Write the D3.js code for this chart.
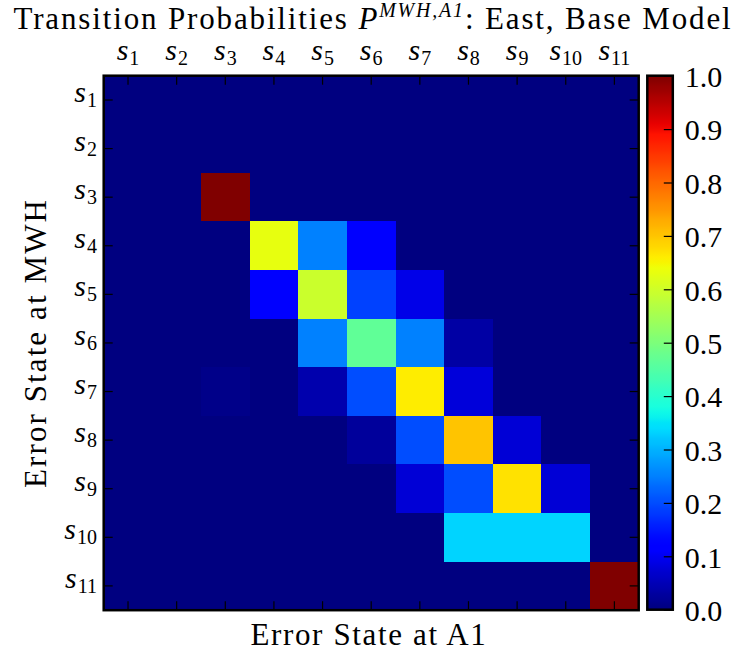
<!DOCTYPE html>
<html>
<head>
<meta charset="utf-8">
<script src="https://cdn.jsdelivr.net/npm/d3@7"></script>
<style>
  html, body { margin: 0; padding: 0; background: #fff; }
  svg { display: block; }
  text { font-family: "Liberation Serif", "DejaVu Serif", serif; fill: #000; }
</style>
</head>
<body>
<svg id="chart" width="736" height="653"></svg>
<script>
// ---------- data ----------
const colStates = ["1","2","3","4","5","6","7","8","9","10","11"];   // A1 states (columns)
const rowStates = ["1","2","3","4","5","6","7","8","9","10","11"];   // MWH states (rows)
const row1  = [0,0,0,0,0,0,0,0,0,0,0];
const row2  = [0,0,0,0,0,0,0,0,0,0,0];
const row3  = [0,0,1.0,0,0,0,0,0,0,0,0];
const row4  = [0,0,0,0.63,0.25,0.12,0,0,0,0,0];
const row5  = [0,0,0,0.12,0.595,0.19,0.09,0,0,0,0];
const row6  = [0,0,0,0,0.25,0.465,0.25,0.035,0,0,0];
const row7  = [0,0,0.01,0,0.04,0.20,0.66,0.08,0,0,0];
const row8  = [0,0,0,0,0,0.025,0.20,0.70,0.075,0,0];
const row9  = [0,0,0,0,0,0,0.075,0.20,0.67,0.075,0];
const row10 = [0,0,0,0,0,0,0,0.333,0.333,0.333,0];
const row11 = [0,0,0,0,0,0,0,0,0,0,1.0];
const matrix = [row1,row2,row3,row4,row5,row6,row7,row8,row9,row10,row11];
const cbTicks = [0,0.1,0.2,0.3,0.4,0.5,0.6,0.7,0.8,0.9,1.0];

// ---------- jet colormap (matplotlib segment data) ----------
function seg(pts, v) {
  for (let i = 1; i < pts.length; i++) {
    if (v <= pts[i][0]) {
      const [x0, y0] = pts[i-1], [x1, y1] = pts[i];
      return y0 + (y1 - y0) * (v - x0) / (x1 - x0);
    }
  }
  return pts[pts.length-1][1];
}
const jR = [[0,0],[0.35,0],[0.66,1],[0.89,1],[1,0.5]];
const jG = [[0,0],[0.125,0],[0.375,1],[0.64,1],[0.91,0],[1,0]];
const jB = [[0,0.5],[0.11,1],[0.34,1],[0.65,0],[1,0]];
function jet(v) {
  v = Math.max(0, Math.min(1, v));
  v = Math.min(255, Math.floor(v * 256)) / 255; // 256-level LUT
  return d3.rgb(Math.round(seg(jR,v)*255), Math.round(seg(jG,v)*255), Math.round(seg(jB,v)*255)).formatHex();
}
const color = d3.scaleSequential(jet).domain([0, 1]);

// ---------- layout ----------
const svg = d3.select("#chart");
const P = { x: 103.7, y: 75.7, w: 535, h: 534.5 };
const CB = { x: 647.3, y: 75.7, w: 25.5, h: 534 };
const tickLen = 9;

const x = d3.scaleBand().domain(d3.range(colStates.length)).range([P.x, P.x + P.w]);
const y = d3.scaleBand().domain(d3.range(rowStates.length)).range([P.y, P.y + P.h]);

// cells
const cells = [];
matrix.forEach((r, i) => r.forEach((v, j) => cells.push({ i, j, v })));
svg.append("g").selectAll("rect").data(cells).join("rect")
  .attr("x", d => x(d.j)).attr("y", d => y(d.i))
  .attr("width", x.bandwidth() + 0.5).attr("height", y.bandwidth() + 0.5)
  .attr("fill", d => color(d.v))
  .attr("shape-rendering", "crispEdges");

// ticks (inward, all four sides)
const tg = svg.append("g").attr("stroke", "#000").attr("stroke-width", 1.2);
d3.range(colStates.length).forEach(j => {
  const cx = x(j) + x.bandwidth() / 2;
  tg.append("line").attr("x1", cx).attr("x2", cx).attr("y1", P.y).attr("y2", P.y + tickLen);
  tg.append("line").attr("x1", cx).attr("x2", cx).attr("y1", P.y + P.h).attr("y2", P.y + P.h - tickLen);
});
d3.range(rowStates.length).forEach(i => {
  const cy = y(i) + y.bandwidth() / 2;
  tg.append("line").attr("y1", cy).attr("y2", cy).attr("x1", P.x).attr("x2", P.x + tickLen);
  tg.append("line").attr("y1", cy).attr("y2", cy).attr("x1", P.x + P.w).attr("x2", P.x + P.w - tickLen);
});

// frame
svg.append("rect").attr("x", P.x).attr("y", P.y).attr("width", P.w).attr("height", P.h)
  .attr("fill", "none").attr("stroke", "#000").attr("stroke-width", 2.5);

// state labels
function stateLabel(sel, n) {
  sel.append("tspan").attr("font-style", "italic").attr("font-size", 30).text("s");
  sel.append("tspan").attr("font-size", 20).attr("dx", 1).attr("dy", 5).text(n);
}
svg.append("g").selectAll("text").data(colStates).join("text")
  .attr("x", (d, j) => x(j) + x.bandwidth() / 2)
  .attr("y", 60)
  .attr("text-anchor", "middle")
  .each(function(d) { stateLabel(d3.select(this), d); });
svg.append("g").selectAll("text").data(rowStates).join("text")
  .attr("x", 97)
  .attr("y", (d, i) => y(i) + y.bandwidth() / 2 + 2)
  .attr("text-anchor", "end")
  .each(function(d) { stateLabel(d3.select(this), d); });

// colorbar
const defs = svg.append("defs");
const grad = defs.append("linearGradient").attr("id", "jetgrad")
  .attr("x1", 0).attr("x2", 0).attr("y1", 1).attr("y2", 0);
d3.range(0, 1.0001, 0.01).forEach(t => {
  grad.append("stop").attr("offset", t).attr("stop-color", color(t));
});
svg.append("rect").attr("x", CB.x).attr("y", CB.y).attr("width", CB.w).attr("height", CB.h)
  .attr("fill", "url(#jetgrad)");
const cy = d3.scaleLinear().domain([0, 1]).range([CB.y + CB.h, CB.y]);
const cbAxis = d3.axisRight(cy).tickValues(cbTicks).tickFormat(d3.format(".1f")).tickSize(0).tickPadding(0);
const cbg = svg.append("g").attr("transform", `translate(${CB.x + CB.w},0)`).call(cbAxis);
cbg.select(".domain").remove();
cbg.selectAll(".tick line").attr("x1", -tickLen).attr("x2", 0).attr("stroke", "#000").attr("stroke-width", 1.2);
cbg.selectAll(".tick text")
  .attr("x", 12).attr("dy", "0.36em")
  .attr("font-family", "Liberation Serif, DejaVu Serif, serif")
  .attr("font-size", 30).attr("fill", "#000");
svg.append("rect").attr("x", CB.x).attr("y", CB.y).attr("width", CB.w).attr("height", CB.h)
  .attr("fill", "none").attr("stroke", "#000").attr("stroke-width", 2.5);

// helper: grow font up to a cap, then fill remaining width with letter spacing
function fit(sel, target, maxFs) {
  const fs0 = parseFloat(sel.attr("font-size"));
  let w = sel.node().getComputedTextLength();
  const k = Math.min(target / w, maxFs / fs0);
  sel.attr("font-size", fs0 * k);
  sel.selectAll("tspan").each(function() {
    const t = d3.select(this);
    if (t.attr("font-size")) t.attr("font-size", parseFloat(t.attr("font-size")) * k);
    if (t.attr("dy")) t.attr("dy", parseFloat(t.attr("dy")) * k);
  });
  w = sel.node().getComputedTextLength();
  const n = sel.text().length;
  if (target > w) sel.attr("letter-spacing", (target - w) / n);
}

// title
const title = svg.append("text").attr("x", 373).attr("y", 29).attr("text-anchor", "middle").attr("font-size", 28);
title.append("tspan").text("Transition Probabilities ");
title.append("tspan").attr("font-style", "italic").text("P");
title.append("tspan").attr("font-style", "italic").attr("font-size", 18).attr("dy", -10.5).text("MWH,A1");
title.append("tspan").attr("dy", 10.5).text(": East, Base Model");
fit(title, 719, 31);

// axis labels
const xl = svg.append("text").attr("x", 369).attr("y", 645).attr("text-anchor", "middle")
  .attr("font-size", 29).text("Error State at A1");
fit(xl, 237, 31);
const yl = svg.append("text").attr("transform", "translate(46,343) rotate(-90)").attr("text-anchor", "middle")
  .attr("font-size", 29).text("Error State at MWH");
fit(yl, 290, 31);
</script>
</body>
</html>
